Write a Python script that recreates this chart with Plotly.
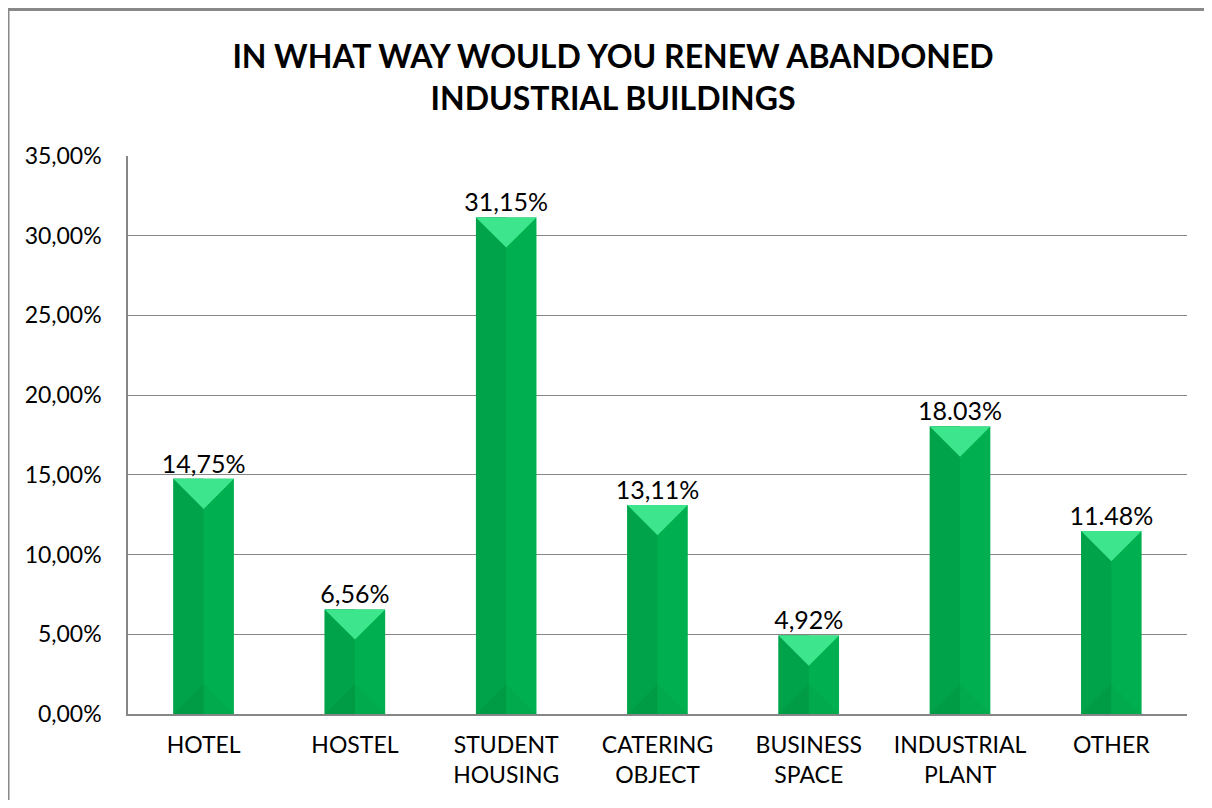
import plotly.graph_objects as go

categories = ["HOTEL", "HOSTEL", "STUDENT<br>HOUSING", "CATERING<br>OBJECT",
              "BUSINESS<br>SPACE", "INDUSTRIAL<br>PLANT", "OTHER"]
values = [14.75, 6.56, 31.15, 13.11, 4.92, 18.03, 11.48]
value_labels = ["14,75%", "6,56%", "31,15%", "13,11%", "4,92%", "18.03%", "11.48%"]
y_ticks = [0, 5, 10, 15, 20, 25, 30, 35]
y_tick_labels = ["0,00%", "5,00%", "10,00%", "15,00%", "20,00%", "25,00%", "30,00%", "35,00%"]

W, H = 1196, 792
ML, MR, MT, MB = 120, 17, 148, 84
FONT = "Lato, Carlito, 'Open Sans', sans-serif"

x = list(range(len(categories)))
bw = 0.4
plot_w = W - ML - MR
plot_h = H - MT - MB
ymax = 35
# bevel depth in y units, 45 degree bevel
d = (bw / 2 * plot_w / len(categories)) / (plot_h / ymax)

fig = go.Figure()

# main bar (right half colour)
fig.add_trace(go.Bar(x=x, y=values, width=bw, marker=dict(color="#00B050", line=dict(width=0)),
                     hoverinfo="skip"))
# left half darker
fig.add_trace(go.Bar(x=x, y=values, width=bw / 2, offset=-bw / 2,
                     marker=dict(color="#00A34A", line=dict(width=0)), hoverinfo="skip"))

# bevel triangles
top_x, top_y = [], []
botl_x, botl_y = [], []
botr_x, botr_y = [], []
for xi, v in zip(x, values):
    top_x += [xi - bw / 2, xi + bw / 2, xi, xi - bw / 2, None]
    top_y += [v, v, v - d, v, None]
    botl_x += [xi - bw / 2, xi, xi, xi - bw / 2, None]
    botl_y += [0, 0, d, 0, None]
    botr_x += [xi, xi + bw / 2, xi, xi, None]
    botr_y += [0, 0, d, 0, None]

fig.add_trace(go.Scatter(x=botl_x, y=botl_y, mode="lines", fill="toself",
                         fillcolor="#009C45", line=dict(width=0), hoverinfo="skip"))
fig.add_trace(go.Scatter(x=botr_x, y=botr_y, mode="lines", fill="toself",
                         fillcolor="#00AA4D", line=dict(width=0), hoverinfo="skip"))
fig.add_trace(go.Scatter(x=top_x, y=top_y, mode="lines", fill="toself",
                         fillcolor="#3DE68C", line=dict(width=0), hoverinfo="skip"))

# data labels
fig.add_trace(go.Scatter(x=x, y=values, mode="text", text=value_labels,
                         textposition="top center",
                         textfont=dict(family=FONT, size=25, color="#000000"),
                         hoverinfo="skip"))

fig.update_layout(
    width=W, height=H,
    margin=dict(l=ML, r=MR, t=MT, b=MB),
    paper_bgcolor="white", plot_bgcolor="white",
    showlegend=False,
    barmode="overlay",
    font=dict(family=FONT, color="#000000"),
    title=dict(text="<b>IN WHAT WAY WOULD YOU RENEW ABANDONED<br>INDUSTRIAL BUILDINGS</b>",
               x=(613 - 8 - ML) / plot_w, xanchor="center", xref="paper",
               y=1 - 60 / H, yanchor="middle",
               font=dict(family=FONT, size=32, color="#000000")),
    xaxis=dict(range=[-0.5, len(categories) - 0.5], tickvals=x, ticktext=categories,
               showgrid=False, showline=True, linecolor="#868686", linewidth=1.5,
               ticks="", ticklabelstandoff=10,
               tickfont=dict(family=FONT, size=23, color="#000000"), fixedrange=True),
    yaxis=dict(range=[0, ymax], tickvals=y_ticks, ticktext=y_tick_labels,
               showgrid=True, gridcolor="#868686", gridwidth=1.2,
               showline=True, linecolor="#868686", linewidth=1.5, zeroline=False,
               ticks="", ticklabelstandoff=20,
               tickfont=dict(family=FONT, size=23, color="#000000"), fixedrange=True),
    shapes=[dict(type="rect", xref="paper", yref="paper",
                 x0=-ML / plot_w, x1=1 + (MR + 40) / plot_w,
                 y0=-(MB + 40) / plot_h, y1=1 + (MT - 1) / plot_h,
                 line=dict(color="#888888", width=3), fillcolor="rgba(0,0,0,0)", layer="below")],
)

fig.write_html("out.html")
